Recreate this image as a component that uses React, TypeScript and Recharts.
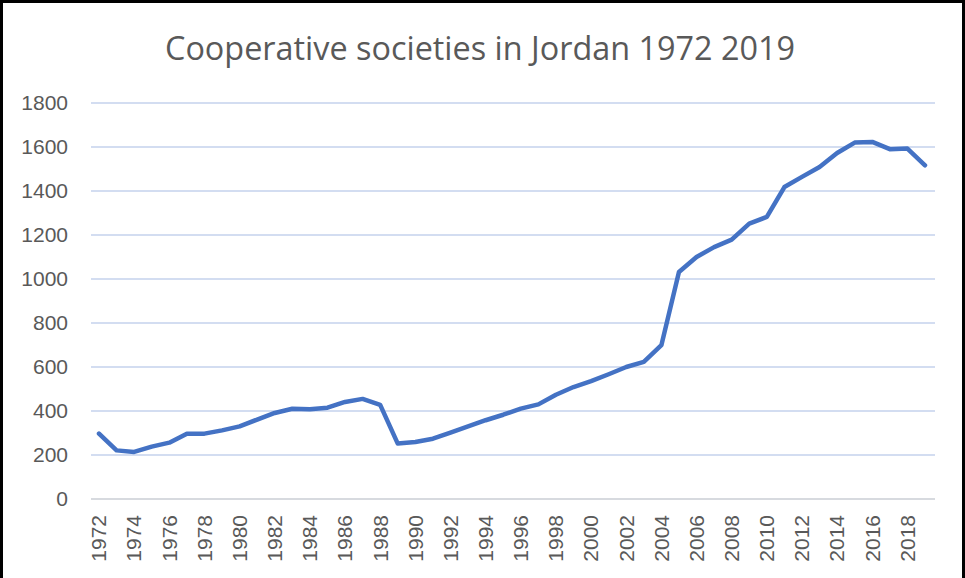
import { LineChart, Line, XAxis, YAxis, CartesianGrid } from "recharts"

const years = [
  "1972", "1973", "1974", "1975", "1976", "1977", "1978", "1979", "1980", "1981",
  "1982", "1983", "1984", "1985", "1986", "1987", "1988", "1989", "1990", "1991",
  "1992", "1993", "1994", "1995", "1996", "1997", "1998", "1999", "2000", "2001",
  "2002", "2003", "2004", "2005", "2006", "2007", "2008", "2009", "2010", "2011",
  "2012", "2013", "2014", "2015", "2016", "2017", "2018", "2019",
]

const societies = [
  297, 221, 214, 238, 256, 297, 297, 312, 330, 361,
  391, 410, 408, 415, 441, 455, 428, 252, 259, 274,
  302, 330, 358, 383, 411, 430, 474, 509, 536, 567,
  600, 623, 699, 1032, 1100, 1145, 1179, 1252, 1282, 1418,
  1464, 1509, 1573, 1620, 1623, 1590, 1593, 1517,
]

const yTicks = [0, 200, 400, 600, 800, 1000, 1200, 1400, 1600, 1800]

const chartTitle = "Cooperative societies in Jordan 1972 2019"

const data = years.map((year, i) => ({ year, value: societies[i] }))

const textColor = "#595959"
const tickFont = "'Liberation Sans', Arial, sans-serif"

// rotated year labels, reading bottom to top
const YearTick = ({ x, y, payload }: any) => {
  const ty = y + 16
  return (
    <text
      x={x}
      y={ty}
      transform={`rotate(-90, ${x}, ${ty})`}
      textAnchor="end"
      dy="0.35em"
      fill={textColor}
      fontSize={21}
      fontFamily={tickFont}
    >
      {payload.value}
    </text>
  )
}

export default function App() {
  return (
    <div style={{ position: "relative", width: 965, height: 578, background: "#fff", overflow: "hidden" }}>
      <style>{"body{margin:0}"}</style>
      <LineChart width={965} height={578} data={data} margin={{ top: 103, right: 30, left: 0, bottom: 0 }}>
        <CartesianGrid vertical={false} stroke="#C4D2EC" strokeWidth={1.4} />
        <XAxis
          dataKey="year"
          interval={1}
          height={79}
          tickLine={false}
          tickSize={0}
          tickMargin={0}
          axisLine={{ stroke: "#D9D9D9", strokeWidth: 1.5 }}
          padding={{ left: 8, right: 10 }}
          tick={<YearTick />}
        />
        <YAxis
          width={91}
          domain={[0, 1800]}
          ticks={yTicks}
          axisLine={false}
          tickLine={false}
          tickSize={0}
          tickMargin={23}
          tick={{ fill: textColor, fontSize: 21, fontFamily: tickFont }}
        />
        <Line
          type="linear"
          dataKey="value"
          stroke="#4472C4"
          strokeWidth={4.5}
          strokeLinecap="round"
          strokeLinejoin="round"
          dot={false}
          isAnimationActive={false}
        />
      </LineChart>
      <svg width={965} height={80} style={{ position: "absolute", left: 0, top: 0 }}>
        <text
          x={480}
          y={60}
          textAnchor="middle"
          fill={textColor}
          fontSize={33}
          fontFamily="'Open Sans', sans-serif"
          textLength={630}
          lengthAdjust="spacingAndGlyphs"
        >
          {chartTitle}
        </text>
      </svg>
      <div
        style={{
          position: "absolute",
          inset: 0,
          boxSizing: "border-box",
          borderTop: "3px solid #000",
          borderLeft: "3px solid #000",
          borderRight: "3px solid #000",
          pointerEvents: "none",
        }}
      />
    </div>
  )
}
